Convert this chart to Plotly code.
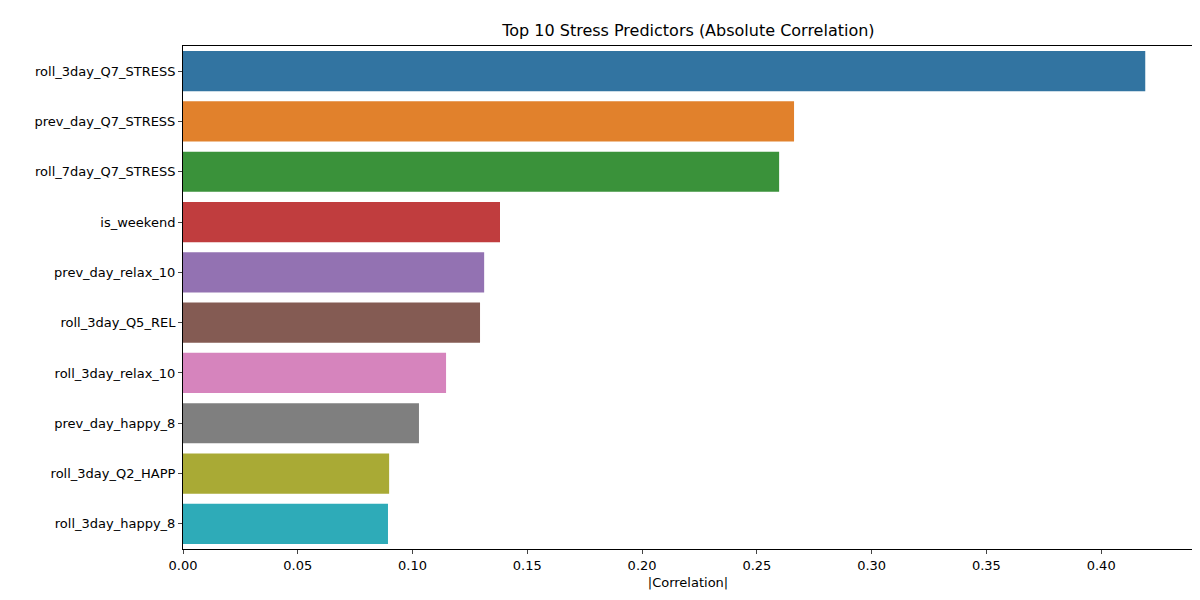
import plotly.graph_objects as go

features = ["roll_3day_Q7_STRESS", "prev_day_Q7_STRESS", "roll_7day_Q7_STRESS",
            "is_weekend", "prev_day_relax_10", "roll_3day_Q5_REL",
            "roll_3day_relax_10", "prev_day_happy_8", "roll_3day_Q2_HAPP",
            "roll_3day_happy_8"]
abs_corr = [0.4192, 0.2662, 0.2597, 0.1381, 0.1312, 0.1294, 0.1146, 0.1028, 0.0898, 0.0893]
colors = ["#3274a1", "#e1812c", "#3a923a", "#c03d3e", "#9372b2",
          "#845b53", "#d684bd", "#7f7f7f", "#a9aa35", "#2eabb8"]

fig = go.Figure(go.Bar(x=abs_corr, y=features, orientation="h",
                       marker=dict(color=colors, line=dict(width=0)), width=0.8))
fig.update_layout(
    width=1200, height=600, plot_bgcolor="white", paper_bgcolor="white",
    margin=dict(l=175, r=15, t=38, b=59),
    font=dict(family="DejaVu Sans", size=13, color="black"),
    title=dict(text="Top 10 Stress Predictors (Absolute Correlation)", x=0.567, xanchor="center",
               y=0.962, yanchor="middle", font=dict(size=16)),
    showlegend=False,
)
fig.update_xaxes(range=[0, 0.44], dtick=0.05, tickformat=".2f", showgrid=False, zeroline=False,
                 showline=True, linecolor="black", mirror=True, ticks="outside", ticklen=4,
                 automargin=False, tickfont=dict(size=13),
                 title=dict(text="|Correlation|", standoff=6, font=dict(size=13)))
fig.update_yaxes(autorange="reversed", showgrid=False, showline=True, linecolor="black",
                 mirror=True, ticks="outside", ticklen=4, automargin=False, tickfont=dict(size=13))
fig.write_html("out.html")
